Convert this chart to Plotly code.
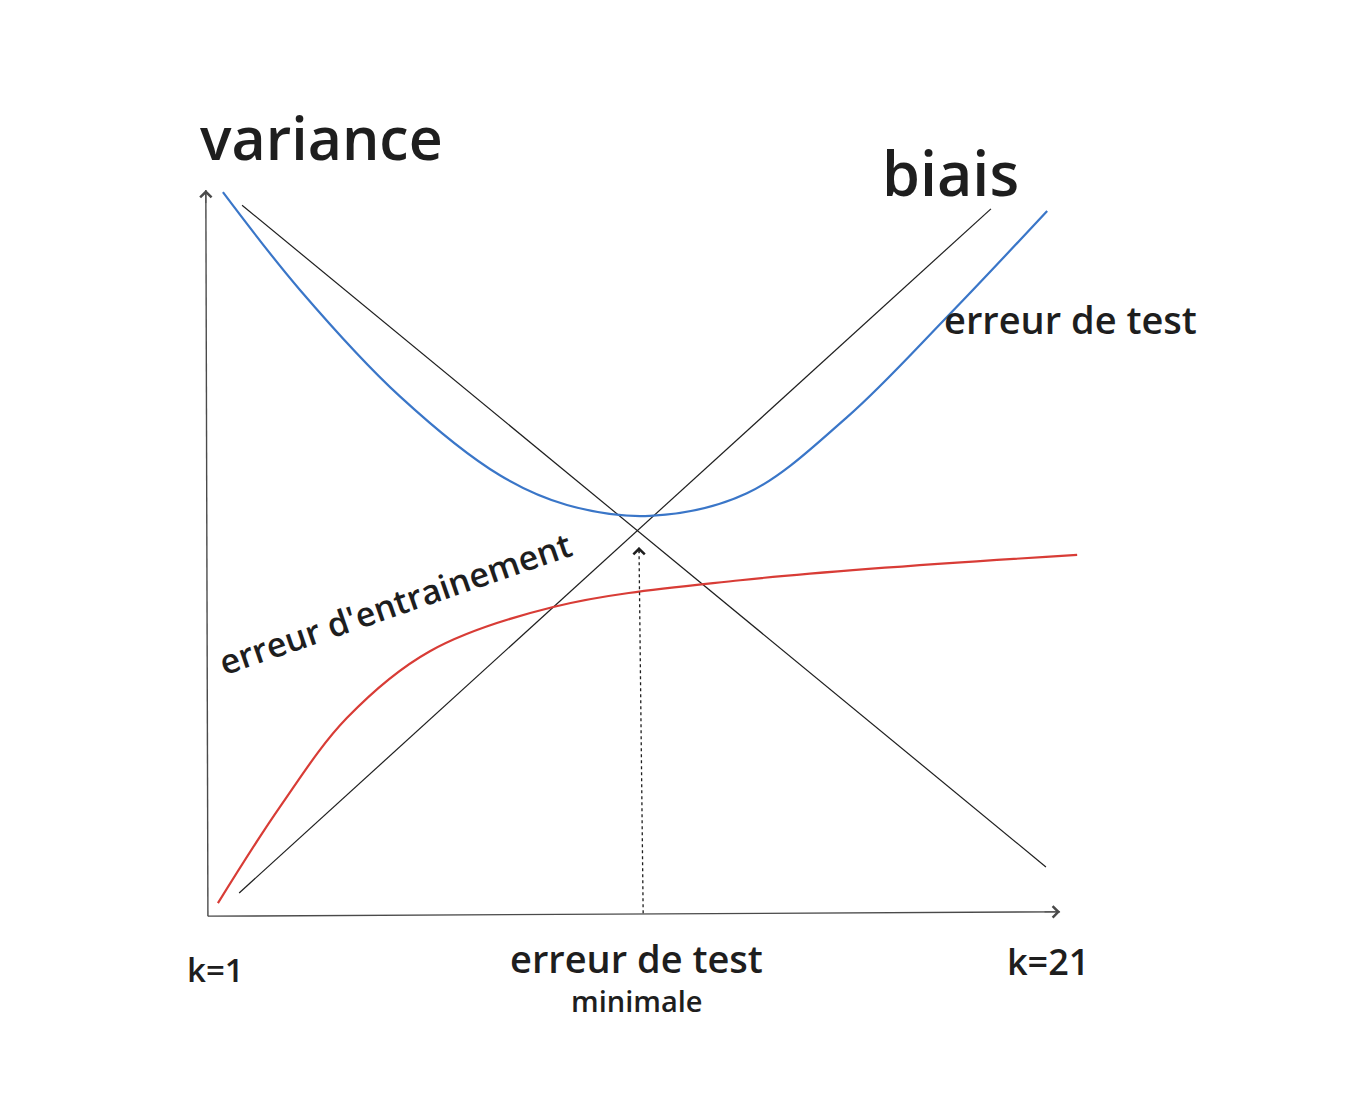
import plotly.graph_objects as go

# ---- data (x = k, y = error, arbitrary units) ----
test_k = [1.19, 3.04, 5.44, 7.84, 9.45, 11.44, 13.77, 16.17, 18.58, 20.98]
test_err = [9.97, 8.62, 7.15, 6.06, 5.65, 5.50, 5.81, 6.86, 8.25, 9.71]

train_k = [1.07, 2.56, 4.17, 6.16, 9.12, 13.61, 21.70]
train_err = [0.15, 1.48, 2.71, 3.63, 4.24, 4.61, 4.96]

variance_k = [1.65, 20.95]
variance_err = [9.79, 0.65]

biais_k = [1.58, 19.63]
biais_err = [0.29, 9.74]

min_k = [11.28, 11.18]
min_err = [0.01, 5.07]

xaxis_k = [0.83, 21.29]
xaxis_err = [-0.03, 0.03]
yaxis_k = [0.83, 0.78]
yaxis_err = [-0.03, 10.0]

tick_labels = ["k=1", "k=21"]
tick_k = [1, 21]
tick_err = [-0.77, -0.65]
tick_sizes = [33, 36]

FONT = "Open Sans"
INK = "#1e1e1e"

fig = go.Figure()

fig.add_trace(go.Scatter(x=xaxis_k, y=xaxis_err, mode="lines",
                         line=dict(color="#4a4a4a", width=1.4), hoverinfo="skip"))
fig.add_trace(go.Scatter(x=yaxis_k, y=yaxis_err, mode="lines",
                         line=dict(color="#4a4a4a", width=1.4), hoverinfo="skip"))
fig.add_trace(go.Scatter(x=variance_k, y=variance_err, mode="lines",
                         line=dict(color=INK, width=1.2), hoverinfo="skip"))
fig.add_trace(go.Scatter(x=biais_k, y=biais_err, mode="lines",
                         line=dict(color=INK, width=1.2), hoverinfo="skip"))
fig.add_trace(go.Scatter(x=test_k, y=test_err, mode="lines",
                         line=dict(color="#3a76c8", width=2.2, shape="spline", smoothing=1.0),
                         hoverinfo="skip"))
fig.add_trace(go.Scatter(x=train_k, y=train_err, mode="lines",
                         line=dict(color="#d83c36", width=2.2, shape="spline", smoothing=1.0),
                         hoverinfo="skip"))
fig.add_trace(go.Scatter(x=min_k, y=min_err, mode="lines",
                         line=dict(color=INK, width=1.3, dash="3px,3px"), hoverinfo="skip"))

# arrowheads
def head(xs, ys, color):
    fig.add_annotation(x=xs[1], y=ys[1], ax=xs[1] - (xs[1] - xs[0]) * 0.02,
                       ay=ys[1] - (ys[1] - ys[0]) * 0.02, axref="x", ayref="y",
                       xref="x", yref="y", text="", showarrow=True,
                       arrowhead=4, arrowsize=2.2, arrowwidth=1, arrowcolor=color)

head(xaxis_k, xaxis_err, "#4a4a4a")
head(yaxis_k, yaxis_err, "#4a4a4a")
head(min_k, min_err, INK)

def label(x, y, text, size, angle=0):
    fig.add_annotation(x=x, y=y, xref="x", yref="y", text=text, showarrow=False,
                       textangle=angle,
                       font=dict(family=FONT, size=size, color=INK, weight=600),
                       xanchor="center", yanchor="middle")

label(3.56, 10.73, "variance", 59)
label(18.65, 10.24, "biais", 61)
label(21.55, 8.22, "erreur de test", 38)
label(5.32, 4.30, "erreur d'entrainement", 34, angle=-19)
label(11.13, -0.61, "erreur de test", 38)
label(11.13, -1.20, "minimale", 29)
for k, e, t, s in zip(tick_k, tick_err, tick_labels, tick_sizes):
    label(k, e, t, s)

x0 = 1 - 215 / 41.65
x1 = 1 + (1358 - 215) / 41.65
y1 = 914 / 72.4
y0 = (914 - 1106) / 72.4

fig.update_layout(
    width=1358, height=1106, autosize=False,
    margin=dict(l=0, r=0, t=0, b=0),
    paper_bgcolor="white", plot_bgcolor="white",
    showlegend=False,
    xaxis=dict(range=[x0, x1], visible=False, fixedrange=True),
    yaxis=dict(range=[y0, y1], visible=False, fixedrange=True),
)

fig.write_html("out.html", config={"displayModeBar": False},
               post_script="document.body.style.margin='0';")
